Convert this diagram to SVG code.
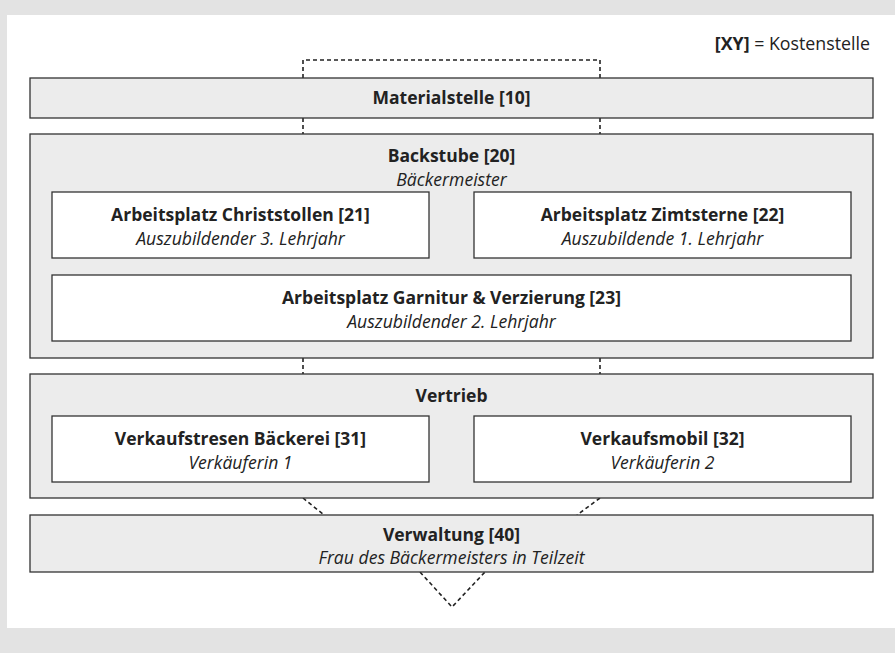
<svg xmlns="http://www.w3.org/2000/svg" width="895" height="653" viewBox="0 0 895 653">
<style>
.outer{fill:#ececec;stroke:#333;stroke-width:1.3}
.inner{fill:#fff;stroke:#333;stroke-width:1.3}
.b{font-family:"Open Sans","Liberation Sans",sans-serif;font-weight:bold;font-size:17.5px;fill:#222;text-anchor:middle}
.i{font-family:"Open Sans","Liberation Sans",sans-serif;font-style:italic;font-size:17.6px;fill:#222;text-anchor:middle}
.c{fill:none;stroke:#222;stroke-width:1.6;stroke-dasharray:4,3}
</style>
<rect x="0" y="0" width="895" height="653" fill="#e3e3e3"/>
<rect x="7" y="15" width="888" height="613" fill="#fff"/>
<text x="870" y="50" font-family="'Open Sans','Liberation Sans',sans-serif" font-size="17.8" fill="#222" text-anchor="end"><tspan font-weight="bold">[XY]</tspan> = Kostenstelle</text>
<g id="connectors">
<path class="c" d="M303,78 V60 H600 V78"/>
<path class="c" d="M303,118 V134 M600,118 V134"/>
<path class="c" d="M303,358 V374 M600,358 V374"/>
<path class="c" d="M303,498 L324,515 M600,498 L577,515"/>
<path class="c" d="M420,572 L452,607 L485,572"/>
</g>
<g id="materialstelle">
<rect class="outer" x="30" y="78" width="843" height="40"/>
<text class="b" x="451.5" y="104">Materialstelle [10]</text>
</g>
<g id="backstube">
<rect class="outer" x="30" y="134" width="843" height="224"/>
<text class="b" x="451.5" y="162">Backstube [20]</text>
<text class="i" x="451.5" y="185.5">Bäckermeister</text>
</g>
<g id="ap21">
<rect class="inner" x="52" y="192" width="377" height="66"/>
<text class="b" x="240.5" y="221">Arbeitsplatz Christstollen [21]</text>
<text class="i" x="240.5" y="245">Auszubildender 3. Lehrjahr</text>
</g>
<g id="ap22">
<rect class="inner" x="474" y="192" width="377" height="66"/>
<text class="b" x="662.5" y="221">Arbeitsplatz Zimtsterne [22]</text>
<text class="i" x="662.5" y="245">Auszubildende 1. Lehrjahr</text>
</g>
<g id="ap23">
<rect class="inner" x="52" y="275" width="799" height="66"/>
<text class="b" x="451.5" y="304">Arbeitsplatz Garnitur &amp; Verzierung [23]</text>
<text class="i" x="451.5" y="328">Auszubildender 2. Lehrjahr</text>
</g>
<g id="vertrieb">
<rect class="outer" x="30" y="374" width="843" height="124"/>
<text class="b" x="451.5" y="402">Vertrieb</text>
</g>
<g id="vk31">
<rect class="inner" x="52" y="416" width="377" height="66"/>
<text class="b" x="240.5" y="445">Verkaufstresen Bäckerei [31]</text>
<text class="i" x="240.5" y="469">Verkäuferin 1</text>
</g>
<g id="vk32">
<rect class="inner" x="474" y="416" width="377" height="66"/>
<text class="b" x="662.5" y="445">Verkaufsmobil [32]</text>
<text class="i" x="662.5" y="469">Verkäuferin 2</text>
</g>
<g id="verwaltung">
<rect class="outer" x="30" y="515" width="843" height="57"/>
<text class="b" x="451.5" y="541">Verwaltung [40]</text>
<text class="i" x="451.5" y="564">Frau des Bäckermeisters in Teilzeit</text>
</g>
</svg>
